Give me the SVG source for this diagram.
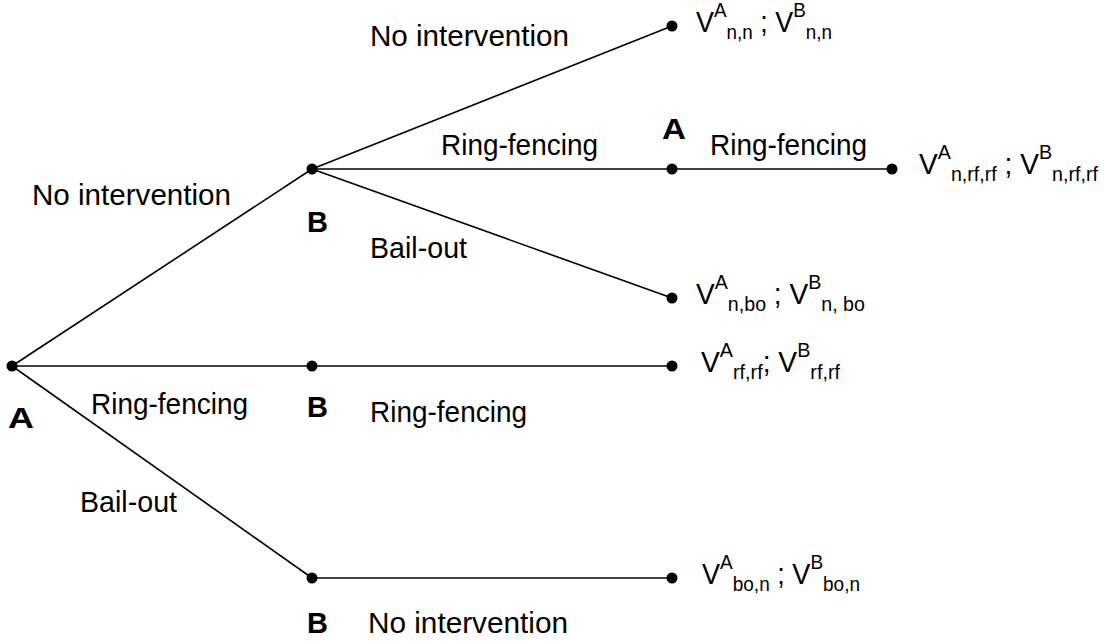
<svg xmlns="http://www.w3.org/2000/svg" width="1111" height="644" viewBox="0 0 1111 644">
<style>
.lbl{font-family:"Liberation Sans",Arial,sans-serif;font-size:30px;fill:#000}
.pl{font-family:"Liberation Sans",Arial,sans-serif;font-size:30px;fill:#000}
.b{font-family:"Liberation Sans",Arial,sans-serif;font-size:29px;font-weight:bold;fill:#000}
.s{font-size:21px}
.e{stroke:#000;stroke-width:1.6;fill:none}
.d{fill:#000}
</style>
<rect width="1111" height="644" fill="#fff"/>
<g id="connectors">
<line class="e" x1="12" y1="366" x2="312" y2="169"/>
<line class="e" x1="12" y1="366" x2="312" y2="366"/>
<line class="e" x1="12" y1="366" x2="312" y2="578"/>
<line class="e" x1="312" y1="169" x2="672" y2="26"/>
<line class="e" x1="312" y1="169" x2="672" y2="169"/>
<line class="e" x1="312" y1="169" x2="672" y2="298"/>
<line class="e" x1="672" y1="169" x2="892" y2="169"/>
<line class="e" x1="312" y1="366" x2="672" y2="366"/>
<line class="e" x1="312" y1="578" x2="672" y2="578"/>
<text class="lbl" x="370" y="46" textLength="199" lengthAdjust="spacingAndGlyphs">No intervention</text>
<text class="lbl" x="441" y="155" textLength="157" lengthAdjust="spacingAndGlyphs">Ring-fencing</text>
<text class="lbl" x="710" y="155" textLength="157" lengthAdjust="spacingAndGlyphs">Ring-fencing</text>
<text class="lbl" x="370" y="258" textLength="97" lengthAdjust="spacingAndGlyphs">Bail-out</text>
<text class="lbl" x="32" y="205" textLength="199" lengthAdjust="spacingAndGlyphs">No intervention</text>
<text class="lbl" x="91" y="414" textLength="157" lengthAdjust="spacingAndGlyphs">Ring-fencing</text>
<text class="lbl" x="370" y="422" textLength="157" lengthAdjust="spacingAndGlyphs">Ring-fencing</text>
<text class="lbl" x="80" y="512" textLength="97" lengthAdjust="spacingAndGlyphs">Bail-out</text>
<text class="lbl" x="368" y="633" textLength="200" lengthAdjust="spacingAndGlyphs">No intervention</text>
</g>
<g id="nodeA">
<circle class="d" cx="12" cy="366" r="5.5"/>
<text class="b" x="8" y="428" textLength="26" lengthAdjust="spacingAndGlyphs">A</text>
</g>
<g id="nodeB1">
<circle class="d" cx="312" cy="169" r="5.5"/>
<text class="b" x="307" y="232">B</text>
</g>
<g id="nodeB2">
<circle class="d" cx="312" cy="366" r="5.5"/>
<text class="b" x="307" y="417">B</text>
</g>
<g id="nodeB3">
<circle class="d" cx="312" cy="578" r="5.5"/>
<text class="b" x="307" y="633">B</text>
</g>
<g id="nodeA2">
<circle class="d" cx="672" cy="169" r="5.5"/>
<text class="b" x="662" y="139" textLength="24" lengthAdjust="spacingAndGlyphs">A</text>
</g>
<g id="term1">
<circle class="d" cx="672" cy="26" r="5.5"/>
<text class="pl" x="696" y="32" textLength="136" lengthAdjust="spacingAndGlyphs">V<tspan class="s" y="17">A</tspan><tspan class="s" y="39">n,n</tspan><tspan y="32"> ; V</tspan><tspan class="s" y="17">B</tspan><tspan class="s" y="39">n,n</tspan></text>
</g>
<g id="term2">
<circle class="d" cx="892" cy="169" r="5.5"/>
<text class="pl" x="919" y="174" textLength="179" lengthAdjust="spacingAndGlyphs">V<tspan class="s" y="159">A</tspan><tspan class="s" y="181">n,rf,rf</tspan><tspan y="174"> ; V</tspan><tspan class="s" y="159">B</tspan><tspan class="s" y="181">n,rf,rf</tspan></text>
</g>
<g id="term3">
<circle class="d" cx="672" cy="298" r="5.5"/>
<text class="pl" x="696" y="304" textLength="169" lengthAdjust="spacingAndGlyphs">V<tspan class="s" y="289">A</tspan><tspan class="s" y="311">n,bo</tspan><tspan y="304"> ;  V</tspan><tspan class="s" y="289">B</tspan><tspan class="s" y="311">n, bo</tspan></text>
</g>
<g id="term4">
<circle class="d" cx="672" cy="366" r="5.5"/>
<text class="pl" x="701" y="372" textLength="139" lengthAdjust="spacingAndGlyphs">V<tspan class="s" y="357">A</tspan><tspan class="s" y="379">rf,rf</tspan><tspan y="372">; V</tspan><tspan class="s" y="357">B</tspan><tspan class="s" y="379">rf,rf</tspan></text>
</g>
<g id="term5">
<circle class="d" cx="672" cy="578" r="5.5"/>
<text class="pl" x="702" y="584" textLength="158" lengthAdjust="spacingAndGlyphs">V<tspan class="s" y="569">A</tspan><tspan class="s" y="591">bo,n</tspan><tspan y="584"> ; V</tspan><tspan class="s" y="569">B</tspan><tspan class="s" y="591">bo,n</tspan></text>
</g>
</svg>
